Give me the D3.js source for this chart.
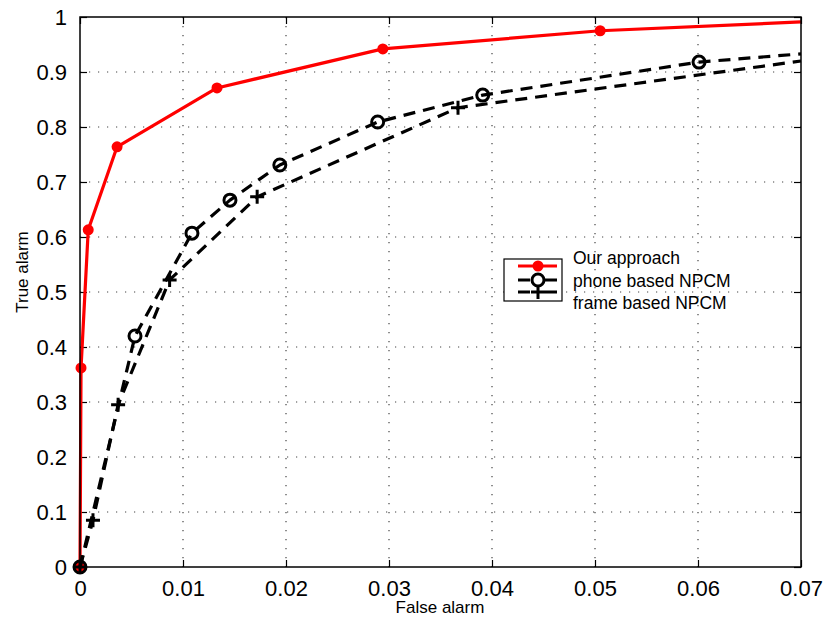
<!DOCTYPE html>
<html><head><meta charset="utf-8">
<script src="https://cdn.jsdelivr.net/npm/d3@7"></script>
<style>body{margin:0;background:#fff}svg{display:block}</style>
</head><body>
<svg id="c" width="827" height="624"></svg>
<script>
const xTicks = [0,0.01,0.02,0.03,0.04,0.05,0.06,0.07];
const xTickLabels = ["0","0.01","0.02","0.03","0.04","0.05","0.06","0.07"];
const yTicks = [0,0.1,0.2,0.3,0.4,0.5,0.6,0.7,0.8,0.9,1];
const yTickLabels = ["0","0.1","0.2","0.3","0.4","0.5","0.6","0.7","0.8","0.9","1"];

const oursX = [0, 0.0001, 0.0008, 0.0036, 0.0133, 0.0294, 0.0505, 0.07];
const oursY = [0, 0.362, 0.613, 0.764, 0.871, 0.942, 0.975, 0.991];
const phoneX = [0, 0.00534, 0.01087, 0.01456, 0.0194, 0.0289, 0.0391, 0.0601, 0.07];
const phoneY = [0, 0.42, 0.607, 0.667, 0.731, 0.809, 0.858, 0.918, 0.933];
const frameX = [0, 0.00126, 0.0037, 0.0087, 0.0172, 0.0367, 0.07];
const frameY = [0, 0.085, 0.295, 0.522, 0.673, 0.835, 0.92];
const seriesNames = ["Our approach","phone based NPCM","frame based NPCM"];

const L=80,R=801,T=17,B=567;
const x=d3.scaleLinear().domain([0,0.07]).range([L,R]);
const y=d3.scaleLinear().domain([0,1]).range([B,T]);
const svg=d3.select("#c");
const font="Liberation Sans, Arial, Helvetica, sans-serif";

// grid
const g=svg.append("g");
g.selectAll(".gx").data(xTicks.slice(1,-1)).enter().append("line")
 .attr("x1",d=>x(d)).attr("x2",d=>x(d)).attr("y1",T).attr("y2",B)
 .attr("stroke","#444").attr("stroke-width",1.2).attr("stroke-dasharray","1.2,7.8");
g.selectAll(".gy").data(yTicks.slice(1,-1)).enter().append("line")
 .attr("y1",d=>y(d)).attr("y2",d=>y(d)).attr("x1",L).attr("x2",R)
 .attr("stroke","#444").attr("stroke-width",1.2).attr("stroke-dasharray","1.2,7.8");

// axes with inward ticks
const xa=d3.axisBottom(x).tickValues(xTicks).tickFormat((d,i)=>xTickLabels[i]).tickSizeInner(-7).tickSizeOuter(0).tickPadding(13);
const ya=d3.axisLeft(y).tickValues(yTicks).tickFormat((d,i)=>yTickLabels[i]).tickSizeInner(-7).tickSizeOuter(0).tickPadding(13);
const gx=svg.append("g").attr("transform",`translate(0,${B})`).call(xa);
const gy=svg.append("g").attr("transform",`translate(${L},0)`).call(ya);
svg.append("g").attr("transform",`translate(0,${T})`).call(d3.axisTop(x).tickValues(xTicks).tickFormat("").tickSizeInner(-7).tickSizeOuter(0));
svg.append("g").attr("transform",`translate(${R},0)`).call(d3.axisRight(y).tickValues(yTicks).tickFormat("").tickSizeInner(-7).tickSizeOuter(0));
svg.selectAll(".domain").remove();
svg.selectAll(".tick line").attr("stroke","#000").attr("stroke-width",1.2);
[gx,gy].forEach(a=>a.selectAll("text").attr("font-family",font).attr("font-size",22).attr("fill","#000"));
gy.selectAll("text").attr("dy","0.36em");
gx.selectAll("text").attr("dy","0.72em");

function drawSeries(xs,ys,color,dash,marker){
  const pts=xs.map((v,i)=>[v,ys[i]]);
  svg.append("path").datum(pts)
   .attr("d",d3.line().x(d=>x(d[0])).y(d=>y(d[1])))
   .attr("fill","none").attr("stroke",color).attr("stroke-width",3.2)
   .attr("stroke-dasharray",dash).attr("stroke-linejoin","round");
  const mp=pts.filter(d=>d[0]<0.07);
  drawMarkers(svg,mp.map(d=>[x(d[0]),y(d[1])]),color,marker);
}
function drawMarkers(p,xy,color,marker){
  xy.forEach(([cx,cy])=>{
    if(marker==="dot") p.append("circle").attr("cx",cx).attr("cy",cy).attr("r",5.5).attr("fill",color);
    else if(marker==="o") p.append("circle").attr("cx",cx).attr("cy",cy).attr("r",6).attr("fill","none").attr("stroke",color).attr("stroke-width",3);
    else if(marker==="+") p.append("path").attr("d",`M${cx-7},${cy}H${cx+7}M${cx},${cy-7}V${cy+7}`).attr("stroke",color).attr("stroke-width",3);
  });
}
drawSeries(oursX,oursY,"#ff0000",null,"dot");
drawSeries(phoneX,phoneY,"#000","12,8","o");
drawSeries(frameX,frameY,"#000","12,8","+");

// border
svg.append("rect").attr("x",L).attr("y",T).attr("width",R-L).attr("height",B-T)
 .attr("fill","none").attr("stroke","#000").attr("stroke-width",1.5);

// axis titles
svg.append("text").attr("x",440).attr("y",613).attr("text-anchor","middle")
 .attr("font-family",font).attr("font-size",17).text("False alarm");
svg.append("text").attr("transform","translate(28,272) rotate(-90)").attr("text-anchor","middle")
 .attr("font-family",font).attr("font-size",17).text("True alarm");

// legend
const lg=svg.append("g");
lg.append("rect").attr("x",504).attr("y",259).attr("width",58).attr("height",42)
 .attr("fill","#fff").attr("stroke","#000").attr("stroke-width",1.2);
const ly=[266,280,292], cols=["#ff0000","#000","#000"], mk=["dot","o","+"], dsh=[null,"12,8","12,8"];
seriesNames.forEach((n,i)=>{
  lg.append("line").attr("x1",518).attr("x2",557).attr("y1",ly[i]).attr("y2",ly[i])
   .attr("stroke",cols[i]).attr("stroke-width",3.2).attr("stroke-dasharray",dsh[i]?"12,15":null);
  drawMarkers(lg,[[538,ly[i]]],cols[i],mk[i]);
  lg.append("text").attr("x",573).attr("y",264+i*22.5).attr("font-family",font).attr("font-size",17.5).text(n);
});
</script>
</body></html>
